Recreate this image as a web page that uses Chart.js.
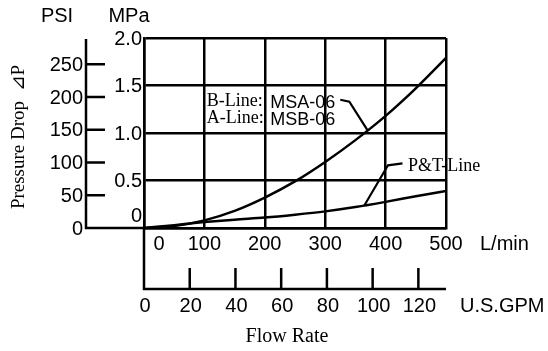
<!DOCTYPE html>
<html>
<head>
<meta charset="utf-8">
<script src="https://cdn.jsdelivr.net/npm/chart.js@4.4.0/dist/chart.umd.min.js"></script>
<style>
  html, body { margin: 0; padding: 0; background: #fff; }
  #wrap { width: 548px; height: 351px; }
</style>
</head>
<body>
<div id="wrap"><canvas id="chart" width="548" height="351"></canvas></div>
<script>
// flow (L/min) and pressure drop (MPa)
const flowLpm = [0, 50, 100, 150, 200, 250, 300, 350, 400, 450, 500];
const abLine = [0, 0.02, 0.08, 0.18, 0.32, 0.49, 0.695, 0.925, 1.18, 1.47, 1.79];
const ptLine = [0, 0.03, 0.062, 0.088, 0.11, 0.14, 0.175, 0.22, 0.275, 0.335, 0.39];

const lpmTicks = [0, 100, 200, 300, 400, 500];
const mpaTicks = [0, 0.5, 1.0, 1.5, 2.0];
const psiTicks = [0, 50, 100, 150, 200, 250];
const gpmTicks = [0, 20, 40, 60, 80, 100, 120];

const LPM_PER_GPM = 3.78541;
const PSI_PER_MPA = 145.038;

const SANS = '"Liberation Sans", Arial, sans-serif';
const SERIF = '"Liberation Serif", "Times New Roman", serif';

const toPoints = (ys) => flowLpm.map((x, i) => ({ x: x, y: ys[i] }));

const extraAxes = {
  id: 'extraAxes',
  afterDraw(chart) {
    const ctx = chart.ctx;
    const xs = chart.scales.x;
    const ys = chart.scales.y;
    const area = chart.chartArea;
    const px = (v) => xs.getPixelForValue(v);
    const py = (v) => ys.getPixelForValue(v);

    ctx.save();
    ctx.strokeStyle = '#000';
    ctx.fillStyle = '#000';
    ctx.lineWidth = 2.5;
    ctx.lineCap = 'butt';

    const psiX = area.left - 58;
    const gpmY = area.bottom + 61;

    // PSI axis
    ctx.beginPath();
    ctx.moveTo(psiX, area.top + 1);
    ctx.lineTo(psiX, area.bottom);
    ctx.lineTo(area.left, area.bottom);
    psiTicks.forEach((p) => {
      const y = py(p / PSI_PER_MPA);
      ctx.moveTo(psiX, y);
      ctx.lineTo(psiX + 19, y);
    });
    ctx.stroke();

    // GPM axis
    ctx.beginPath();
    ctx.moveTo(area.left, area.bottom);
    ctx.lineTo(area.left, gpmY);
    ctx.lineTo(area.right, gpmY);
    gpmTicks.forEach((g) => {
      if (g === 0) return;
      const x = px(g * LPM_PER_GPM);
      ctx.moveTo(x, gpmY);
      ctx.lineTo(x, gpmY - 21);
    });
    ctx.stroke();

    ctx.font = '20px ' + SANS;
    ctx.textBaseline = 'middle';

    // PSI labels
    ctx.textAlign = 'right';
    psiTicks.forEach((p) => {
      ctx.fillText(String(p), psiX - 3, py(p / PSI_PER_MPA) + 1);
    });
    // MPa labels
    mpaTicks.forEach((m) => {
      const y = m === 0 ? py(m) - 12 : py(m) + 1;
      ctx.fillText(m === 0 ? '0' : m.toFixed(1), area.left - 2, y);
    });

    // L/min labels
    ctx.textAlign = 'center';
    lpmTicks.forEach((l) => {
      const x = l === 0 ? px(l) + 15 : px(l);
      ctx.fillText(String(l), x, area.bottom + 16);
    });
    // GPM labels
    gpmTicks.forEach((g) => {
      ctx.fillText(String(g), px(g * LPM_PER_GPM) + 1, gpmY + 17);
    });

    ctx.textAlign = 'left';
    ctx.fillText('L/min', area.right + 34, area.bottom + 16);
    ctx.fillText('U.S.GPM', area.right + 14, gpmY + 17);
    ctx.textAlign = 'center';
    ctx.fillText('PSI', psiX - 29, 16);
    ctx.fillText('MPa', area.left - 15, 16);

    // serif titles
    ctx.font = '20px ' + SERIF;
    ctx.fillText('Flow Rate', (area.left + area.right) / 2 - 8, gpmY + 48);

    ctx.save();
    ctx.translate(19, 137);
    ctx.rotate(-Math.PI / 2);
    ctx.font = '19px ' + SERIF;
    ctx.fillText('Pressure Drop  \u22BFP', 0, 0);
    ctx.restore();

    // annotations
    ctx.textAlign = 'left';
    ctx.font = '18px ' + SERIF;
    ctx.fillText('B-Line:', px(104), py(1.33));
    ctx.fillText('A-Line:', px(104), py(1.15));
    ctx.fillText('P&T-Line', px(437), py(0.65));
    ctx.font = '18px ' + SANS;
    ctx.fillText('MSA-06', px(209), py(1.32));
    ctx.fillText('MSB-06', px(209), py(1.14));

    ctx.lineWidth = 2.2;
    ctx.beginPath();
    ctx.moveTo(px(325), py(1.35));
    ctx.lineTo(px(340), py(1.33));
    ctx.lineTo(px(371), py(1.02));
    ctx.moveTo(px(365), py(0.24));
    ctx.lineTo(px(404), py(0.66));
    ctx.lineTo(px(428), py(0.68));
    ctx.stroke();

    ctx.restore();
  },
};

new Chart(document.getElementById('chart'), {
  type: 'line',
  data: {
    datasets: [
      {
        label: 'A/B-Line',
        data: toPoints(abLine),
        borderColor: '#000',
        borderWidth: 2.5,
        pointRadius: 0,
        cubicInterpolationMode: 'monotone',
        fill: false,
      },
      {
        label: 'P&T-Line',
        data: toPoints(ptLine),
        borderColor: '#000',
        borderWidth: 2.5,
        pointRadius: 0,
        cubicInterpolationMode: 'monotone',
        fill: false,
      },
    ],
  },
  options: {
    responsive: false,
    animation: false,
    devicePixelRatio: 1,
    layout: {
      padding: { left: 144, right: 102, top: 38, bottom: 123 },
    },
    plugins: {
      legend: { display: false },
      tooltip: { enabled: false },
    },
    scales: {
      x: {
        type: 'linear',
        min: 0,
        max: 500,
        ticks: { display: false, stepSize: 100 },
        grid: { color: '#000', lineWidth: 2.5, drawTicks: false },
        border: { display: true, color: '#000', width: 2.5 },
      },
      y: {
        type: 'linear',
        min: 0,
        max: 2,
        ticks: { display: false, stepSize: 0.5 },
        grid: { color: '#000', lineWidth: 2.5, drawTicks: false },
        border: { display: true, color: '#000', width: 2.5 },
      },
    },
  },
  plugins: [extraAxes],
});
</script>
</body>
</html>
